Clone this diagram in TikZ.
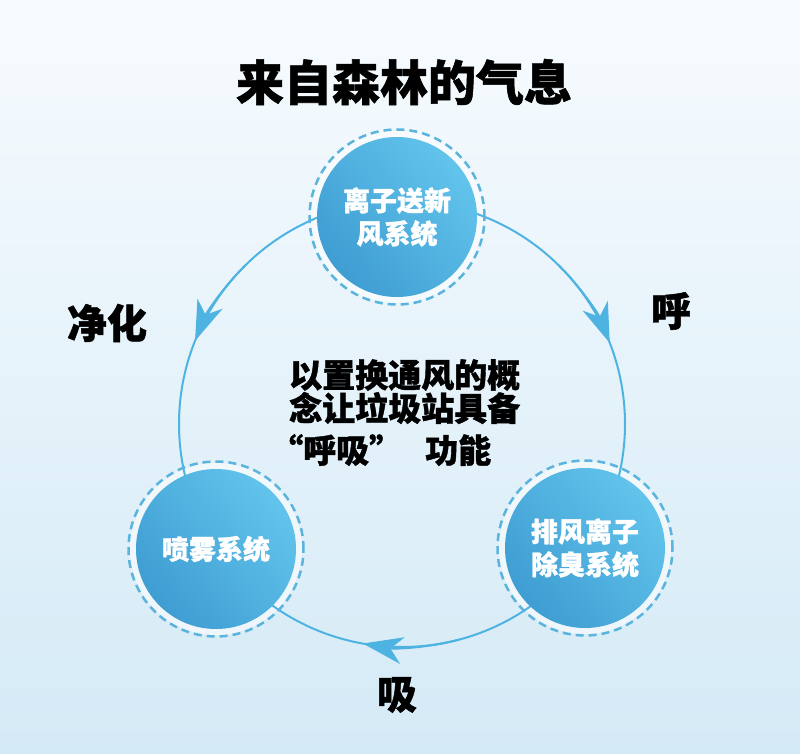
\documentclass[tikz,border=0pt]{standalone}
\usepackage{fontspec}
\newfontfamily\cjk{Noto Sans CJK SC}[BoldFeatures={FakeBold=1.2}]
\usetikzlibrary{arrows.meta}
\definecolor{bgtop}{HTML}{F7FBFE}
\definecolor{bgmid}{HTML}{EBF5FB}
\definecolor{bgbot}{HTML}{D4EAF6}
\definecolor{arcblue}{HTML}{4FB3E2}
\definecolor{filllight}{HTML}{62C4EC}
\definecolor{filldark}{HTML}{3F9DD2}
\definecolor{ringblue}{HTML}{5AB4DD}
\begin{document}
\begin{tikzpicture}[x=1pt,y=-1pt,
  ringbg/.style={circle, fill=white, fill opacity=.55, minimum size=172pt, inner sep=0pt},
  core/.style={circle, minimum size=160pt, inner sep=0pt, shading=axis,
    top color=filllight, bottom color=filldark, shading angle=-50,
    text=white, align=center, font=\cjk\bfseries\fontsize{27}{33}\selectfont},
  dashring/.style={circle, draw=ringblue, line width=2.5pt, dash pattern=on 8pt off 5pt,
    minimum size=175pt, inner sep=0pt},
  arcline/.style={draw=arcblue, line width=2pt},
  tip/.style={-{Stealth[length=40pt, width=27pt, inset=12pt]}},
  label/.style={font=\cjk\bfseries\fontsize{40}{40}\selectfont, text=black, inner sep=0pt},
  body/.style={font=\cjk\bfseries\fontsize{33}{33}\selectfont, text=black, inner sep=0pt, anchor=west}]
\useasboundingbox (0,0) rectangle (800,754);
\shade[top color=bgtop, middle color=bgmid, bottom color=bgbot] (0,0) rectangle (800,754);
\coordinate (O) at (402,424);
% white halos
\node[ringbg] (h1) at (397,217) {};
\node[ringbg] (h2) at (216,549) {};
\node[ringbg] (h3) at (585,548) {};
% big cycle
\draw[arcline] (O) circle[radius=223];
\draw[arcline, tip] (O) ++(-135:223) arc[start angle=-135, end angle=-158.1, radius=223];
\draw[arcline, tip] (O) ++(-45:223) arc[start angle=-45, end angle=-21.3, radius=223];
\draw[arcline, tip] (O) ++(75:223) arc[start angle=75, end angle=100.1, radius=223];
% circles
\node[core] (top) at (397,217) {离子送新\\风系统};
\node[core] (bl) at (216,549) {喷雾系统};
\node[core] (br) at (585,548) {排风离子\\除臭系统};
\node[dashring] (r1) at (top) {};
\node[dashring] (r2) at (bl) {};
\node[dashring] (r3) at (br) {};
% texts
\node[font=\cjk\bfseries\fontsize{48}{48}\selectfont, inner sep=0pt] (title) at (404,82) {来自森林的气息};
\node[label] (jh) at (107,323) {净化};
\node[label] (hu) at (671,311) {呼};
\node[label] (xi) at (397,695) {吸};
\node[body] (t1) at (289,375) {以置换通风的概};
\node[body] (t2) at (289,408) {念让垃圾站具备};
\node[body] (t3) at (270,450) {“呼吸”\hspace{23pt}功能};
\end{tikzpicture}
\end{document}
